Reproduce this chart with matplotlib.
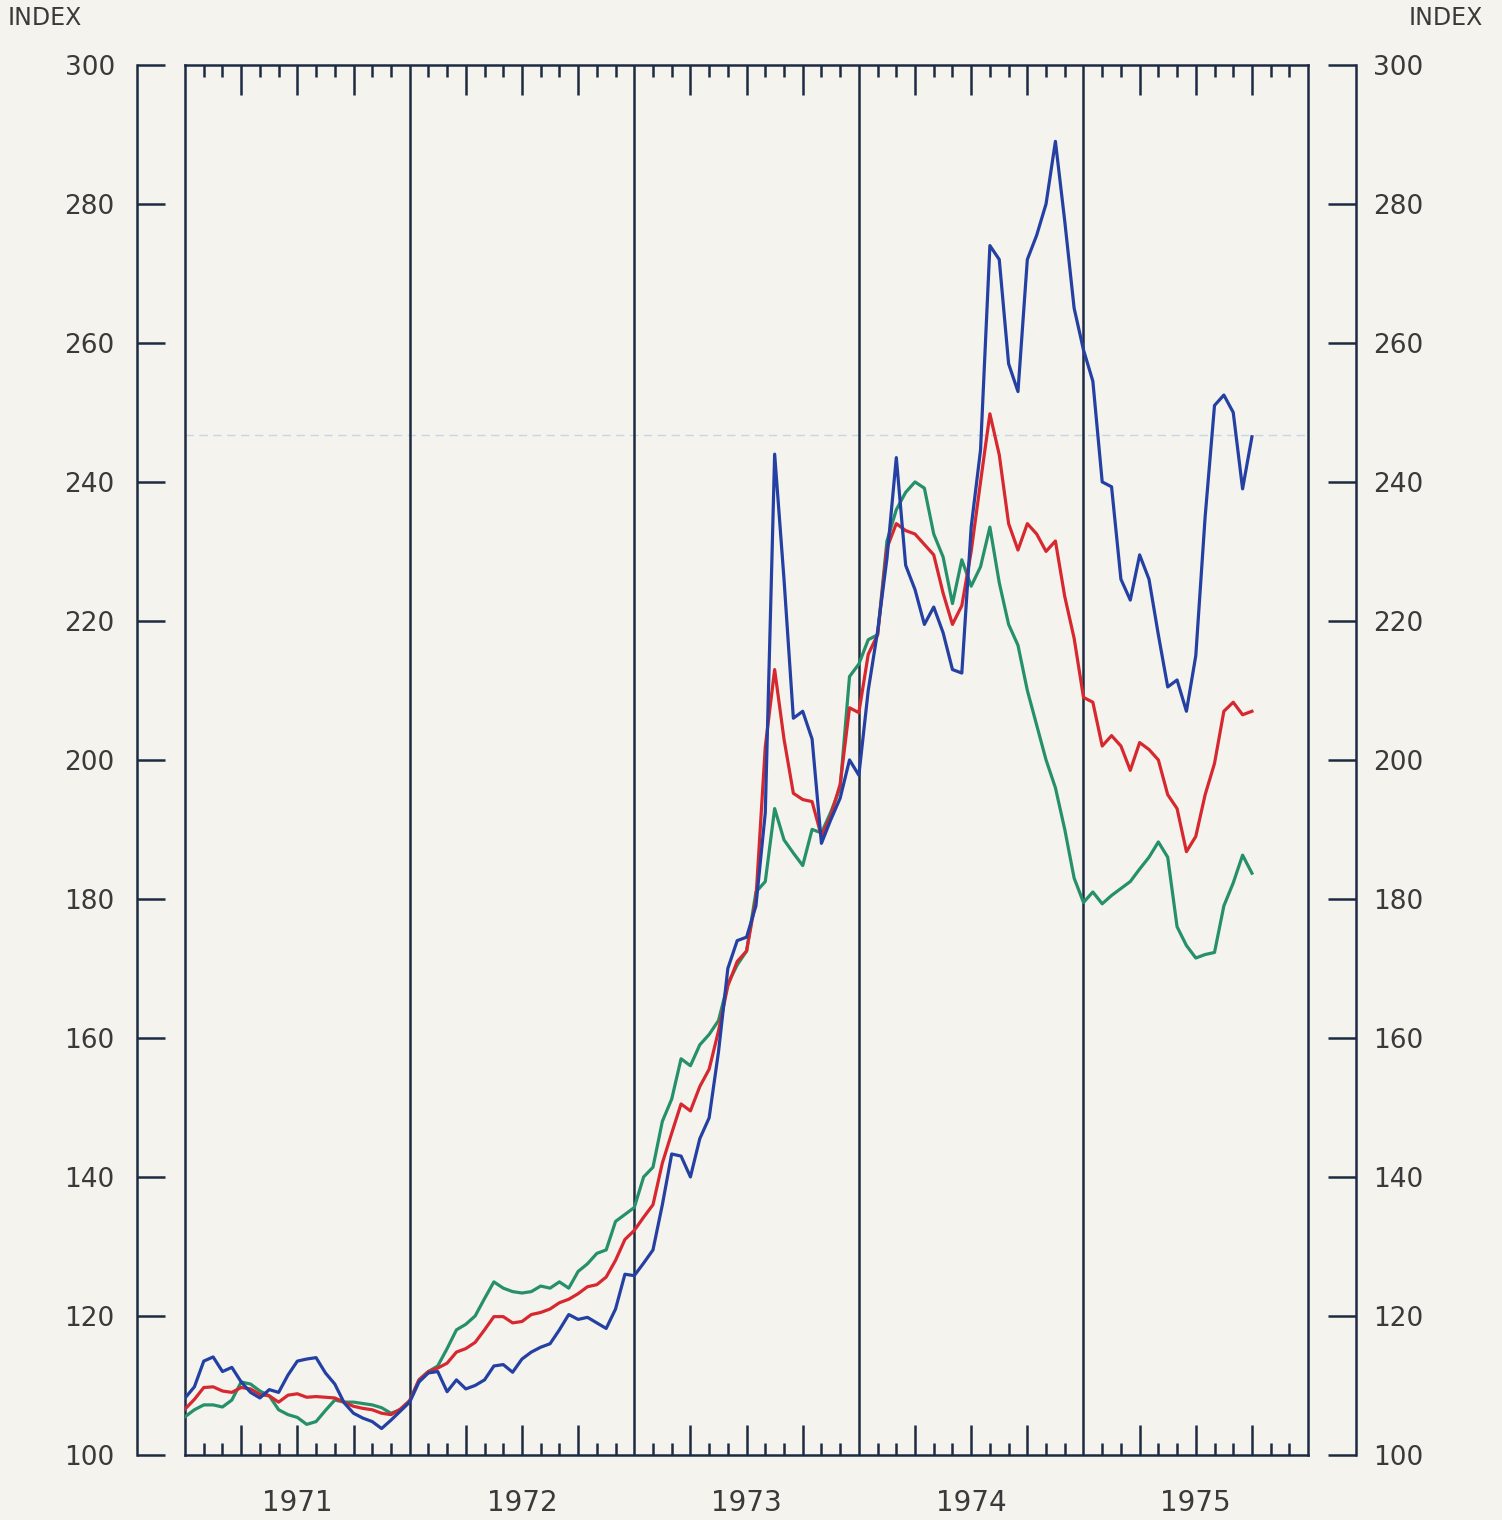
import matplotlib.pyplot as plt
import numpy as np

# =====================================================
# DATA  (half-monthly readings, Jan 1971 - Sep 1975)
# =====================================================

years = [1971, 1972, 1973, 1974, 1975]

n_obs = 115
dates = 1971 + np.arange(n_obs) / 24

blue_index = [
    # 1971
    108.2, 109.8, 113.5, 114.1, 112.0, 112.6, 110.5, 109.0, 108.2, 109.4, 109.0, 111.5,
    113.5, 113.8, 114.0, 111.8, 110.2, 107.5, 106.0, 105.3, 104.8, 103.8, 105.0, 106.3,
    # 1972
    107.6, 110.5, 111.8, 112.0, 109.1, 110.8, 109.5, 110.0, 110.8, 112.8, 113.0, 111.9,
    113.8, 114.8, 115.5, 116.0, 118.0, 120.2, 119.5, 119.8, 119.0, 118.2, 121.0, 126.0,
    # 1973
    125.8, 127.6, 129.5, 136.0, 143.3, 143.0, 140.0, 145.5, 148.5, 158.0, 170.0, 174.0,
    174.5, 179.0, 192.4, 244.0, 226.0, 206.0, 207.0, 203.0, 188.0, 191.4, 194.5, 200.0,
    # 1974
    197.8, 210.0, 218.5, 229.0, 243.5, 228.0, 224.5, 219.5, 222.0, 218.3, 213.0, 212.5,
    233.5, 244.6, 274.0, 272.0, 257.0, 253.0, 272.0, 275.5, 280.0, 289.0, 277.5, 265.0,
    # 1975
    259.0, 254.5, 240.0, 239.3, 226.0, 223.0, 229.5, 226.0, 218.0, 210.5, 211.5, 207.0,
    215.0, 235.0, 251.0, 252.5, 250.0, 239.0, 246.5,
]

red_index = [
    # 1971
    106.6, 108.0, 109.7, 109.8, 109.2, 109.0, 109.7, 109.5, 108.7, 108.5, 107.6, 108.6,
    108.8, 108.3, 108.4, 108.3, 108.2, 107.6, 107.0, 106.7, 106.5, 106.0, 105.8, 106.6,
    # 1972
    107.8, 110.8, 112.0, 112.5, 113.2, 114.8, 115.3, 116.2, 118.0, 119.9, 119.9, 119.0,
    119.2, 120.2, 120.5, 121.0, 121.9, 122.4, 123.2, 124.2, 124.5, 125.6, 128.0, 131.0,
    # 1973
    132.3, 134.2, 136.0, 142.0, 146.3, 150.5, 149.5, 153.0, 155.5, 161.0, 167.5, 171.0,
    172.5, 180.0, 201.9, 213.0, 203.0, 195.2, 194.3, 194.0, 189.0, 192.0, 196.5, 207.5,
    # 1974
    206.8, 215.2, 218.0, 230.5, 234.0, 233.0, 232.5, 231.0, 229.5, 224.0, 219.5, 222.2,
    230.0, 240.0, 249.8, 243.9, 234.0, 230.2, 234.0, 232.5, 230.0, 231.5, 223.5, 217.5,
    # 1975
    209.0, 208.3, 202.0, 203.5, 202.0, 198.5, 202.5, 201.5, 200.0, 195.0, 193.0, 186.8,
    189.0, 195.0, 199.5, 207.0, 208.3, 206.5, 207.0,
]

green_index = [
    # 1971
    105.5, 106.5, 107.2, 107.2, 106.9, 107.9, 110.5, 110.2, 109.2, 108.5, 106.5, 105.8,
    105.4, 104.4, 104.8, 106.4, 107.9, 107.6, 107.6, 107.4, 107.2, 106.8, 106.0, 106.5,
    # 1972
    107.8, 110.8, 112.0, 112.8, 115.3, 118.0, 118.8, 120.0, 122.5, 124.9, 124.0, 123.5,
    123.3, 123.5, 124.3, 124.0, 124.9, 124.0, 126.4, 127.5, 129.0, 129.5, 133.6, 134.6,
    # 1973
    135.6, 140.0, 141.4, 148.0, 151.2, 157.0, 156.0, 159.0, 160.5, 162.5, 167.8, 170.5,
    172.5, 181.0, 182.5, 193.0, 188.5, 186.6, 184.8, 190.0, 189.5, 192.5, 196.0, 212.0,
    # 1974
    213.8, 217.3, 218.0, 231.5, 236.0, 238.5, 240.0, 239.1, 232.5, 229.2, 222.5, 228.8,
    225.0, 227.8, 233.5, 225.5, 219.5, 216.5, 210.0, 205.0, 200.0, 196.0, 190.0, 183.0,
    # 1975
    179.5, 181.0, 179.3, 180.5, 181.5, 182.5, 184.3, 186.0, 188.2, 186.0, 176.0, 173.3,
    171.5, 172.0, 172.3, 179.0, 182.3, 186.3, 183.7,
]

y_ticks = list(range(100, 301, 20))

# =====================================================
# STYLE
# =====================================================

bg = "#f4f3ee"
frame = "#1d2b42"
text_col = "#3a3a3a"
blue = "#2440a2"
red = "#d7282f"
green = "#25906a"

plt.rcParams["font.family"] = ["DejaVu Sans"]

fig = plt.figure(figsize=(15.02, 15.2), dpi=100, facecolor=bg)

ax = fig.add_axes([0.1232, 0.0428, 0.7477, 0.9145])
ax.set_facecolor(bg)

# faint guide line on the sheet
ax.axhline(246.8, color="#c6d6e4", lw=1.0, ls=(0, (6, 4)), zorder=1)

ax.plot(dates, green_index, color=green, lw=2.3, zorder=3)
ax.plot(dates, red_index, color=red, lw=2.3, zorder=4)
ax.plot(dates, blue_index, color=blue, lw=2.3, zorder=5)

ax.set_xlim(1971, 1976)
ax.set_ylim(100, 300)

for s in ax.spines.values():
    s.set_color(frame)
    s.set_linewidth(1.8)

for yr in years[1:]:
    ax.axvline(yr, color=frame, lw=1.8, zorder=2)

# month ticks, longer at the quarters
quarter_ticks = [1971 + i / 12 for i in range(1, 60) if i % 12 != 0 and i % 3 == 0]
month_ticks = [1971 + i / 12 for i in range(1, 60) if i % 3 != 0]

ax.set_xticks(quarter_ticks)
ax.set_xticks(month_ticks, minor=True)
ax.tick_params(axis="x", which="both", direction="in", top=True, bottom=True,
               labelbottom=False, color=frame, width=1.8)
ax.tick_params(axis="x", which="major", length=21.5)
ax.tick_params(axis="x", which="minor", length=8.5)
ax.tick_params(axis="y", left=False, right=False, labelleft=False)

for yr in years:
    ax.text(yr + 0.5, -0.0345, str(yr), transform=ax.get_xaxis_transform(),
            ha="center", va="center", fontsize=20, color=text_col)

# detached index scales on both sides
left = ax.secondary_yaxis(-0.0427)
left.set_yticks(y_ticks)
left.tick_params(direction="in", length=20, width=1.8, pad=16,
                 labelsize=19, color=frame, labelcolor=text_col)
left.spines["left"].set_color(frame)
left.spines["left"].set_linewidth(1.8)

right = ax.secondary_yaxis(1.0427)
right.set_yticks(y_ticks)
right.tick_params(direction="in", length=20, width=1.8, pad=12,
                  labelsize=19, color=frame, labelcolor=text_col)
right.spines["right"].set_color(frame)
right.spines["right"].set_linewidth(1.8)

fig.text(0.005, 1 - 18 / 1520, "INDEX", ha="left", va="center",
         fontsize=17, color=text_col)
fig.text(0.987, 1 - 18 / 1520, "INDEX", ha="right", va="center",
         fontsize=17, color=text_col)

fig.savefig("out.png", dpi=100, facecolor=bg)
